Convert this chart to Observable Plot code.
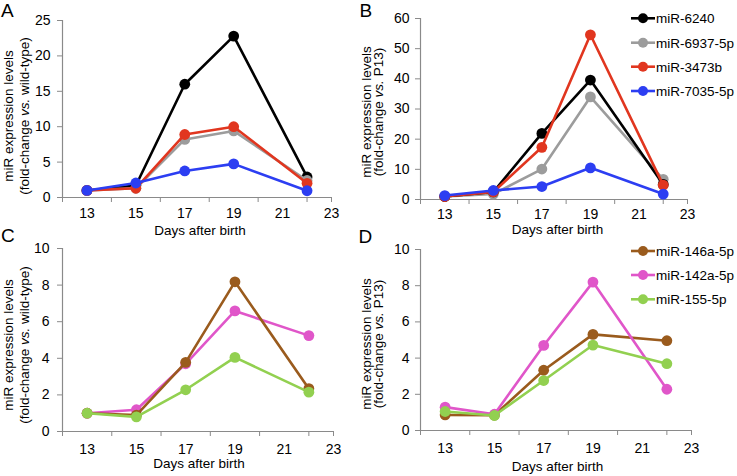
<!DOCTYPE html>
<html><head><meta charset="utf-8">
<script src="https://cdn.jsdelivr.net/npm/d3@7"></script>
<script src="https://cdn.jsdelivr.net/npm/@observablehq/plot@0.6"></script>
<style>
body{margin:0;background:#fff;}
#wrap{position:relative;width:737px;height:476px;overflow:hidden;background:#fff;font-family:"Liberation Sans",Arial,sans-serif;}
.panel{position:absolute;}
.panel svg{overflow:visible;}
</style></head><body><div id="wrap"></div>
<script>
// ---- data ----
const days = [13, 15, 17, 19, 22];
const xTickLabels = [13, 15, 17, 19, 21, 23];
const xTickMarks = [12, 14, 16, 18, 20, 22, 23];

const seriesTop = ["miR-6240", "miR-6937-5p", "miR-3473b", "miR-7035-5p"];
const colorsTop = ["#000000", "#9c9c9c", "#e1361f", "#2c3ef2"];

const a_miR6240 = [1.0, 1.7, 16.0, 22.8, 2.9];
const a_miR6937 = [1.0, 1.3, 8.2, 9.4, 2.4];
const a_miR3473b = [1.0, 1.3, 8.9, 10.0, 2.0];
const a_miR7035 = [1.0, 2.05, 3.75, 4.75, 0.95];

const b_miR6240 = [1.0, 2.5, 21.9, 39.6, 5.0];
const b_miR6937 = [1.0, 1.8, 10.1, 34.0, 6.7];
const b_miR3473b = [1.0, 2.5, 17.3, 54.6, 4.75];
const b_miR7035 = [1.3, 3.0, 4.3, 10.5, 1.8];

const seriesBottom = ["miR-146a-5p", "miR-142a-5p", "miR-155-5p"];
const colorsBottom = ["#9a5b1d", "#e056c9", "#92d050"];

const c_miR146a = [1.0, 0.9, 3.78, 8.18, 2.34];
const c_miR142a = [1.0, 1.19, 3.7, 6.59, 5.24];
const c_miR155 = [1.0, 0.8, 2.28, 4.05, 2.15];

const d_miR146a = [0.86, 0.85, 3.33, 5.31, 4.96];
const d_miR142a = [1.29, 0.9, 4.7, 8.2, 2.28];
const d_miR155 = [1.05, 0.83, 2.76, 4.72, 3.69];

const yTicksA = [0, 5, 10, 15, 20, 25];
const yTicksB = [0, 10, 20, 30, 40, 50, 60];
const yTicksCD = [0, 2, 4, 6, 8, 10];

// ---- helpers ----
const AXIS = "#8a8a8a";
const FONT = "'Liberation Sans', Arial, sans-serif";

function tidy(names, arrays) {
  const rows = [];
  names.forEach((n, i) => arrays[i].forEach((v, j) => rows.push({series: n, day: days[j], value: v})));
  return rows;
}

function panel(cfg) {
  const rows = tidy(cfg.names, cfg.values);
  const seriesMarks = [];
  for (const name of cfg.drawOrder) {
    const d = rows.filter(r => r.series === name);
    seriesMarks.push(Plot.line(d, {x: "day", y: "value", stroke: "series", strokeWidth: 2.6}));
    seriesMarks.push(Plot.dot(d, {x: "day", y: "value", fill: "series", r: 5.4, stroke: "none"}));
  }
  const plot = Plot.plot({
    width: cfg.width, height: cfg.height,
    marginLeft: cfg.ml, marginRight: cfg.mr, marginTop: cfg.mt, marginBottom: cfg.mb,
    style: {fontFamily: FONT, fontSize: "14px", color: "#000", background: "transparent", overflow: "visible"},
    x: {domain: [12, 23]},
    y: {domain: cfg.yDomain},
    color: {domain: cfg.names, range: cfg.colors},
    marks: [
      Plot.axisY({ticks: cfg.yTicks, tickSize: 5, tickPadding: cfg.yPad, stroke: AXIS, fill: "#000", fontSize: 14, label: null}),
      Plot.axisX({ticks: xTickMarks, tickSize: 5, tickFormat: () => "", stroke: AXIS, label: null}),
      Plot.axisX({ticks: xTickLabels, tickSize: 0, tickPadding: cfg.xPad, fill: "#000", fontSize: 14, label: null}),
      Plot.ruleY([cfg.yDomain[0]], {stroke: AXIS, strokeWidth: 1.2}),
      Plot.ruleX([12], {stroke: AXIS, strokeWidth: 1.2}),
      ...seriesMarks
    ]
  });
  const div = document.createElement("div");
  div.className = "panel";
  div.style.left = cfg.left + "px";
  div.style.top = cfg.top + "px";
  div.appendChild(plot);
  document.getElementById("wrap").appendChild(div);

  const svg = d3.select(plot);
  // panel letter
  svg.append("text").attr("x", cfg.letter[0]).attr("y", cfg.letter[1]).attr("text-anchor", "start")
    .style("font-size", "19px").style("font-family", FONT).attr("fill", "#000").text(cfg.letter[2]);
  // y title
  svg.append("text").attr("transform", `translate(${cfg.yt1},${cfg.ytc}) rotate(-90)`)
    .attr("text-anchor", "middle").style("font-size", "13.5px").style("font-family", FONT).attr("fill", "#000")
    .text("miR expression levels");
  const t2 = svg.append("text").attr("transform", `translate(${cfg.yt2},${cfg.ytc}) rotate(-90)`)
    .attr("text-anchor", "middle").style("font-size", "13.5px").style("font-family", FONT).attr("fill", "#000");
  t2.append("tspan").text("(fold-change ");
  t2.append("tspan").style("font-style", "italic").text("vs.");
  t2.append("tspan").text(" " + cfg.ref + ")");
  // x title
  svg.append("text").attr("x", cfg.xl[0]).attr("y", cfg.xl[1]).attr("text-anchor", "middle")
    .style("font-size", "13.5px").style("font-family", FONT).attr("fill", "#000").text("Days after birth");
  // legend
  if (cfg.legend) {
    const [lx0, lx1, tx, ys] = cfg.legend;
    cfg.names.forEach((n, i) => {
      const g = svg.append("g");
      g.append("line").attr("x1", lx0).attr("x2", lx1).attr("y1", ys[i]).attr("y2", ys[i])
        .attr("stroke", cfg.colors[i]).attr("stroke-width", 2.6);
      g.append("circle").attr("cx", (lx0 + lx1) / 2).attr("cy", ys[i]).attr("r", 5).attr("fill", cfg.colors[i]);
      g.append("text").attr("x", tx).attr("y", ys[i]).attr("dy", "0.36em").attr("text-anchor", "start")
        .style("font-size", "13.5px").style("font-family", FONT).attr("fill", "#000").text(n);
    });
  }
}

panel({left: 0, top: 0, width: 368, height: 236, ml: 62, mr: 37, mt: 20, mb: 39,
  yDomain: [0, 25], yTicks: yTicksA, yPad: 7, xPad: 11,
  names: seriesTop, colors: colorsTop, values: [a_miR6240, a_miR6937, a_miR3473b, a_miR7035],
  drawOrder: ["miR-6240", "miR-6937-5p", "miR-3473b", "miR-7035-5p"],
  letter: [1, 17, "A"], yt1: 13, yt2: 28.5, ytc: 116, ref: "wild-type", xl: [200, 235]});

panel({left: 350, top: 0, width: 387, height: 236, ml: 70, mr: 50, mt: 18, mb: 37,
  yDomain: [0, 60], yTicks: yTicksB, yPad: 6, xPad: 10,
  names: seriesTop, colors: colorsTop, values: [b_miR6240, b_miR6937, b_miR3473b, b_miR7035],
  drawOrder: ["miR-6937-5p", "miR-6240", "miR-3473b", "miR-7035-5p"],
  letter: [9.5, 17, "B"], yt1: 20.5, yt2: 33, ytc: 112, ref: "P13", xl: [207.5, 234],
  legend: [281, 305, 306, [18.3, 42.7, 66.7, 91]]});

panel({left: 0, top: 236, width: 368, height: 240, ml: 62, mr: 35, mt: 12, mb: 45,
  yDomain: [0, 10], yTicks: yTicksCD, yPad: 8, xPad: 13,
  names: seriesBottom, colors: colorsBottom, values: [c_miR146a, c_miR142a, c_miR155],
  drawOrder: ["miR-142a-5p", "miR-146a-5p", "miR-155-5p"],
  letter: [1, 6, "C"], yt1: 13, yt2: 28.5, ytc: 109, ref: "wild-type", xl: [199, 232]});

panel({left: 350, top: 236, width: 387, height: 240, ml: 70, mr: 46, mt: 13, mb: 46,
  yDomain: [0, 10], yTicks: yTicksCD, yPad: 6, xPad: 13,
  names: seriesBottom, colors: colorsBottom, values: [d_miR146a, d_miR142a, d_miR155],
  drawOrder: ["miR-146a-5p", "miR-142a-5p", "miR-155-5p"],
  letter: [8.5, 7, "D"], yt1: 20.5, yt2: 33, ytc: 108, ref: "P13", xl: [207.5, 235],
  legend: [281, 305, 306, [15, 39, 63.3]]});
</script></body></html>
